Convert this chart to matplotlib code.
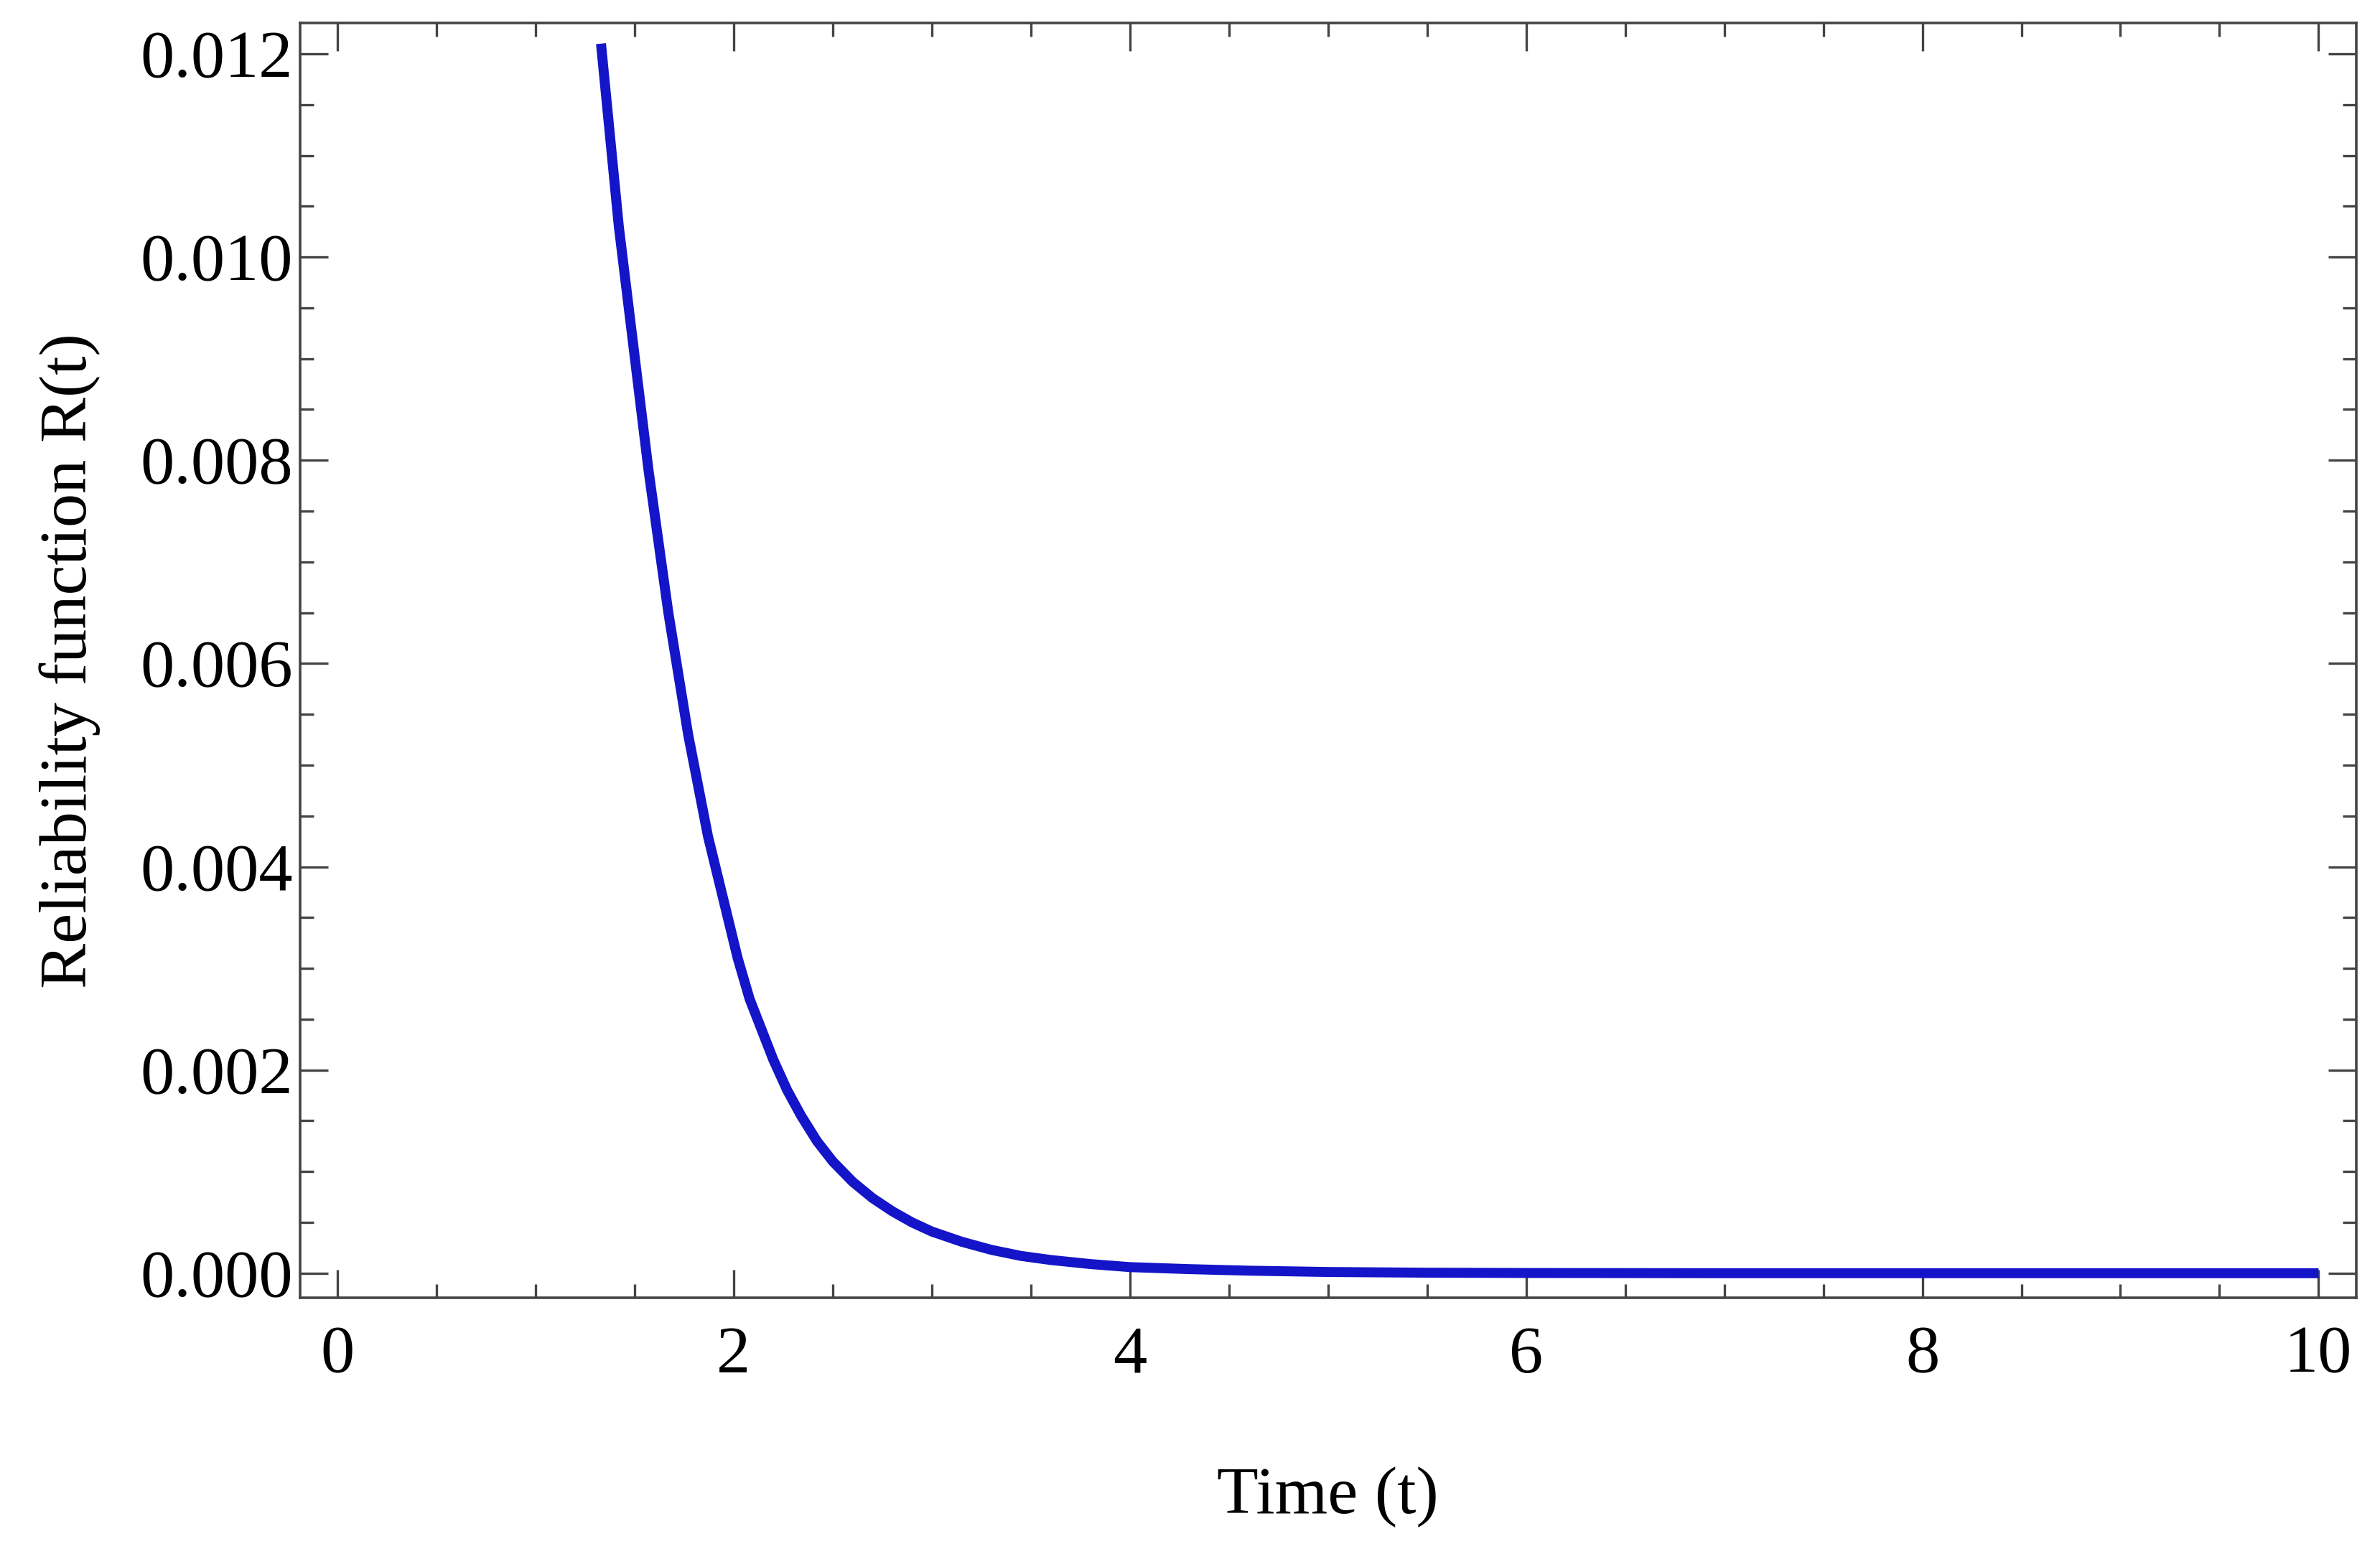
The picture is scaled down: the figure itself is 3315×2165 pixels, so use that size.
import matplotlib.pyplot as plt
from matplotlib.ticker import MultipleLocator

## values
time_t = [1.33, 1.37, 1.42, 1.47, 1.52, 1.57, 1.62, 1.67, 1.72, 1.77, 1.82,
          1.87, 1.92, 1.97, 2.02, 2.08, 2.14, 2.2, 2.27, 2.34, 2.42, 2.5,
          2.6, 2.7, 2.8, 2.9, 3.0, 3.15, 3.3, 3.45, 3.6, 3.8, 4.0, 4.3,
          4.6, 5.0, 5.5, 6.0, 7.0, 8.0, 9.0, 10.0]
reliability = [0.0121, 0.0113, 0.0103, 0.0095, 0.0087, 0.0079, 0.0072,
               0.0065, 0.0059, 0.0053, 0.0048, 0.0043, 0.0039, 0.0035,
               0.0031, 0.0027, 0.0024, 0.0021, 0.0018, 0.00155, 0.0013,
               0.0011, 0.00090, 0.00074, 0.00061, 0.00050, 0.00041, 0.00031,
               0.00023, 0.00017, 0.00013, 0.00009, 0.00006, 0.00004,
               0.000025, 0.000012, 0.000005, 0.000002, 0.0, 0.0, 0.0, 0.0]

plt.rcParams['font.family'] = ['Liberation Serif', 'DejaVu Serif']

fig = plt.figure(figsize=(16.575, 10.825), dpi=200)
ax = fig.add_axes([0.126, 0.165, 0.864, 0.82])

ax.plot(time_t, reliability, color='#1414c8', lw=5, solid_capstyle='butt',
        solid_joinstyle='round')

ax.set_xlim(-0.19, 10.19)
ax.set_ylim(-0.00024, 0.0123)
ax.xaxis.set_major_locator(MultipleLocator(2))
ax.xaxis.set_minor_locator(MultipleLocator(0.5))
ax.yaxis.set_major_locator(MultipleLocator(0.002))
ax.yaxis.set_minor_locator(MultipleLocator(0.0005))
ax.yaxis.set_major_formatter(plt.FuncFormatter(lambda v, p: f"{v:.3f}"))

ax.tick_params(which='both', direction='in', top=True, right=True, width=1.2,
               labelsize=34, color='#444444')
ax.tick_params(which='major', length=14)
ax.tick_params(which='minor', length=7)
ax.tick_params(axis='x', pad=14)
for s in ax.spines.values():
    s.set_linewidth(1.3)
    s.set_color('#444444')

ax.set_xlabel("Time (t)", fontsize=34, labelpad=40)
ax.set_ylabel("Reliability function R(t)", fontsize=34, labelpad=20)

fig.savefig("out.png")
